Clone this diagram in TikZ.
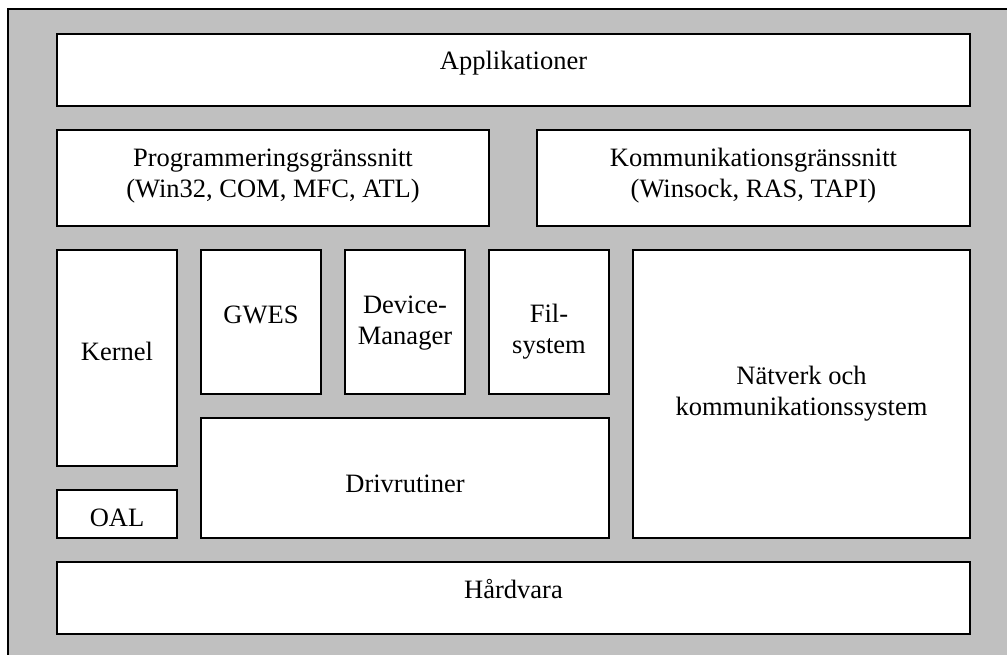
\documentclass[tikz,border=0pt]{standalone}
\usepackage{fontspec}
\setmainfont{Liberation Serif}
\definecolor{panelgray}{RGB}{192,192,192}
\tikzset{
  layer/.style={draw=black, fill=white, line width=1.5pt, inner sep=0pt, outer sep=0pt},
  caption/.style={font=\fontsize{26.5}{31}\selectfont, align=center, inner sep=0pt, anchor=base},
}
% box from (x1,y1) to (x2,y2), y measured downwards
\newcommand{\layerbox}[5]{%
  \node[layer, minimum width={#4-#2}, minimum height={#5-#3}] (#1) at ({(#2+#4)/2},{(#3+#5)/2}) {};}
\begin{document}
\begin{tikzpicture}[x=1pt, y=-1pt]
\useasboundingbox (0,0) rectangle (1007,655);
\clip (0,0) rectangle (1007,655);
\node[draw=black, fill=panelgray, line width=1.8pt, inner sep=0pt, minimum width=1040, minimum height=680] (frame) at (528,349) {};

\layerbox{app}{57}{34}{970}{106}
\layerbox{api}{57}{130}{489}{226}
\layerbox{com}{537}{130}{970}{226}
\layerbox{kern}{57}{250}{177}{466}
\layerbox{gwes}{201}{250}{321}{394}
\layerbox{dev}{345}{250}{465}{394}
\layerbox{fs}{489}{250}{609}{394}
\layerbox{net}{633}{250}{970}{538}
\layerbox{drv}{201}{418}{609}{538}
\layerbox{oal}{57}{490}{177}{538}
\layerbox{hw}{57}{562}{970}{634}

% single-line captions sit on their baseline; two-line captions on the baseline of the last line
\node[caption] (appt) at (app.center |- 0,70) {Applikationer};
\node[caption] (apit) at (api.center |- 0,198) {Programmeringsgränssnitt\\(Win32, COM, MFC, ATL)};
\node[caption] (comt) at (com.center |- 0,198) {Kommunikationsgränssnitt\\(Winsock, RAS, TAPI)};
\node[caption] (kernt) at (kern.center |- 0,360) {Kernel};
\node[caption] (gwest) at (gwes.center |- 0,323) {GWES};
\node[caption] (devt) at (dev.center |- 0,344) {Device-\\Manager};
\node[caption] (fst) at (fs.center |- 0,353) {Fil-\\system};
\node[caption] (nett) at (net.center |- 0,415) {Nätverk och\\kommunikationssystem};
\node[caption] (drvt) at (drv.center |- 0,492) {Drivrutiner};
\node[caption] (oalt) at (oal.center |- 0,526) {OAL};
\node[caption] (hwt) at (hw.center |- 0,598) {Hårdvara};
\end{tikzpicture}
\end{document}
